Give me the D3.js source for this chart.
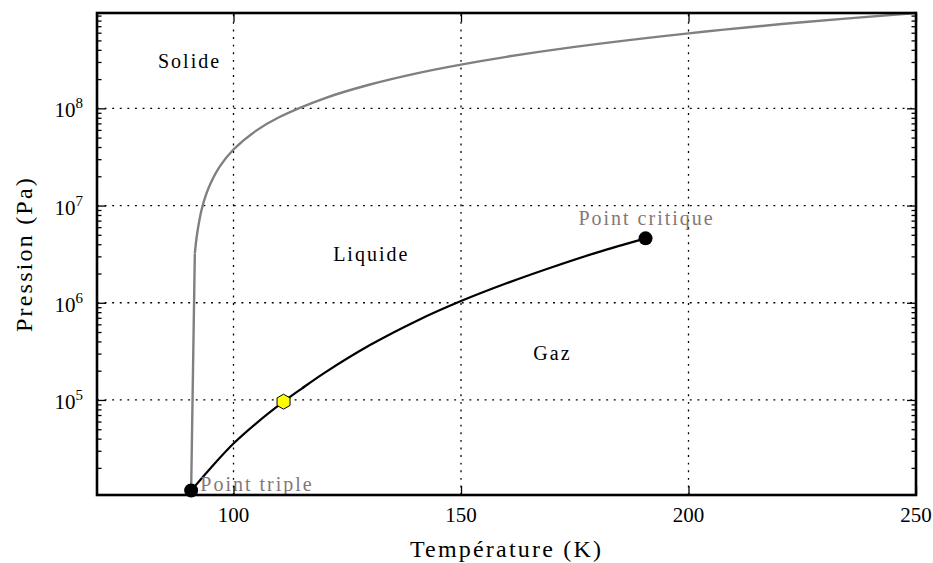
<!DOCTYPE html>
<html>
<head>
<meta charset="utf-8">
<script src="https://cdn.jsdelivr.net/npm/d3@7/dist/d3.min.js"></script>
<style>
  html, body { margin: 0; padding: 0; background: #fff; }
  svg { display: block; }
  svg text { font-family: 'Liberation Serif', 'DejaVu Serif', serif; }
</style>
</head>
<body>
<svg id="chart" width="933" height="563"></svg>
<script>
// ---------------- data ----------------
// Melting (solid/liquid) curve, grey
const meltT = [90.69, 91.5, 92, 93, 94, 95, 97, 100, 105, 110, 120, 130, 140, 150, 160, 175, 200, 225, 250];
const meltP = [1.17e4, 3.2e6, 5.1e6, 9.1e6, 1.31e7, 1.71e7, 2.53e7, 3.77e7, 5.9e7, 8.1e7, 1.27e8, 1.76e8, 2.28e8, 2.82e8, 3.39e8, 4.29e8, 5.91e8, 7.68e8, 9.57e8];
// Vaporisation (liquid/gas) curve, black
const vapT = [90.69, 95, 100, 105, 111, 115, 120, 130, 140, 150, 160, 170, 180, 190.56];
const vapP = [1.17e4, 2.0e4, 3.56e4, 5.75e4, 9.6e4, 1.31e5, 1.9e5, 3.67e5, 6.43e5, 1.04e6, 1.585e6, 2.32e6, 3.3e6, 4.6e6];
// Special points
const triplePoint = [90.69, 1.17e4];
const criticalPoint = [190.56, 4.6e6];
const boilingPoint = [111.0, 9.6e4];
// Axis ticks
const xTicks = [100, 150, 200, 250];
const xTickLabels = ["100", "150", "200", "250"];
const yMajorTicks = [1e5, 1e6, 1e7, 1e8];
const yMajorExp = ["5", "6", "7", "8"];
const xDomain = [70, 250];
const yDomain = [0.9 * 11696, 9.57e8];
// Annotations (text, T, P)
const labelText = ["Solide", "Liquide", "Gaz", "Point critique", "Point triple"];
const labelT = [83.4, 121.9, 165.9, 175.8, 92.7];
const labelP = [2.62e8, 2.66e6, 2.55e5, 6.33e6, 1.17e4];
const labelIsGrey = [false, false, false, true, true];

// ---------------- layout ----------------
const FONT = "'Liberation Serif', 'DejaVu Serif', serif";
const W = 933, H = 563;
const m = { left: 97, right: 17, top: 13, bottom: 68 };
const svg = d3.select("#chart").attr("font-family", FONT);
const x = d3.scaleLinear().domain(xDomain).range([m.left, W - m.right]);
const y = d3.scaleLog().domain(yDomain).range([H - m.bottom, m.top]);
const x0 = m.left, x1 = W - m.right, y0 = H - m.bottom, y1 = m.top;

// minor ticks
const yMinorTicks = [];
for (let e = 4; e <= 8; e++) for (let k = 2; k <= 9; k++) {
  const v = k * Math.pow(10, e);
  if (v > yDomain[0] && v < yDomain[1]) yMinorTicks.push(v);
}

// ---------------- grid ----------------
const grid = svg.append("g").attr("stroke", "#000").attr("stroke-width", 1.3)
  .attr("stroke-dasharray", "1.9,5.7").attr("fill", "none");
grid.selectAll("line.gx").data(xTicks.filter(t => t < xDomain[1])).join("line")
  .attr("x1", d => x(d)).attr("x2", d => x(d)).attr("y1", y0).attr("y2", y1);
grid.selectAll("line.gy").data(yMajorTicks).join("line")
  .attr("y1", d => y(d)).attr("y2", d => y(d)).attr("x1", x0).attr("x2", x1);

// ---------------- curves ----------------
const melt = meltT.map((t, i) => [t, meltP[i]]);
const vap = vapT.map((t, i) => [t, vapP[i]]);
const lineLin = d3.line().x(d => x(d[0])).y(d => y(d[1]));
const lineSmooth = d3.line().x(d => x(d[0])).y(d => y(d[1])).curve(d3.curveCatmullRom.alpha(0.5));

const plot = svg.append("g");
plot.append("path").attr("d", lineLin(melt.slice(0, 2)))
  .attr("fill", "none").attr("stroke", "#808080").attr("stroke-width", 2.4);
plot.append("path").attr("d", lineSmooth(melt.slice(1)))
  .attr("fill", "none").attr("stroke", "#808080").attr("stroke-width", 2.4);
plot.append("path").attr("d", lineSmooth(vap))
  .attr("fill", "none").attr("stroke", "#000").attr("stroke-width", 2.2);

// markers
plot.selectAll("circle.pt").data([triplePoint, criticalPoint]).join("circle")
  .attr("cx", d => x(d[0])).attr("cy", d => y(d[1])).attr("r", 7).attr("fill", "#000");
const hexR = 7.5;
const hexPts = d3.range(6).map(i => {
  const a = -Math.PI / 2 + i * Math.PI / 3;
  return [hexR * Math.cos(a), hexR * Math.sin(a)];
});
plot.append("polygon")
  .attr("points", hexPts.map(p => p.join(",")).join(" "))
  .attr("transform", `translate(${x(boilingPoint[0])},${y(boilingPoint[1])})`)
  .attr("fill", "#ffff00").attr("stroke", "#000").attr("stroke-width", 1);

// annotations
svg.append("g").selectAll("text").data(labelText).join("text")
  .attr("font-family", FONT)
  .attr("x", (d, i) => x(labelT[i])).attr("y", (d, i) => y(labelP[i]))
  .attr("font-size", 20).attr("letter-spacing", 2)
  .attr("fill", (d, i) => labelIsGrey[i] ? "#857777" : "#000")
  .text(d => d);

// ---------------- axes / ticks ----------------
const axG = svg.append("g");
function addTicks(axis, tx, values, len) {
  const g = axG.append("g").attr("transform", tx)
    .call(axis.tickValues(values).tickSize(-len).tickFormat(""));
  g.select(".domain").remove();
  g.selectAll(".tick line").attr("stroke", "#000").attr("stroke-width", 1.3);
  return g;
}
addTicks(d3.axisLeft(y), `translate(${x0},0)`, yMajorTicks, 9);
addTicks(d3.axisLeft(y), `translate(${x0},0)`, yMinorTicks, 4.5);
addTicks(d3.axisRight(y), `translate(${x1},0)`, yMajorTicks, 9);
addTicks(d3.axisRight(y), `translate(${x1},0)`, yMinorTicks, 4.5);
addTicks(d3.axisBottom(x), `translate(0,${y0})`, xTicks, 9);
addTicks(d3.axisTop(x), `translate(0,${y1})`, xTicks, 9);

// x tick labels
axG.append("g").selectAll("text").data(xTicks).join("text")
  .attr("font-family", FONT)
  .attr("x", d => x(d)).attr("y", y0 + 27).attr("text-anchor", "middle")
  .attr("font-size", 21).attr("fill", "#000")
  .text((d, i) => xTickLabels[i]);

// y tick labels 10^n
const yl = axG.append("g").selectAll("text").data(yMajorTicks).join("text")
  .attr("font-family", FONT)
  .attr("x", x0 - 14).attr("y", d => y(d) + 9).attr("text-anchor", "end")
  .attr("font-size", 21).attr("fill", "#000");
yl.append("tspan").text("10");
yl.append("tspan").attr("font-size", 15).attr("dy", -9).text((d, i) => yMajorExp[i]);

// frame
svg.append("rect").attr("x", x0).attr("y", y1).attr("width", x1 - x0).attr("height", y0 - y1)
  .attr("fill", "none").attr("stroke", "#000").attr("stroke-width", 2.6);

// axis titles
svg.append("text").attr("font-family", FONT)
  .attr("x", (x0 + x1) / 2).attr("y", 557).attr("text-anchor", "middle")
  .attr("font-size", 24).attr("letter-spacing", 2.2).attr("fill", "#000").text("Température (K)");
svg.append("text").attr("font-family", FONT)
  .attr("transform", `translate(32,${(y0 + y1) / 2}) rotate(-90)`)
  .attr("text-anchor", "middle")
  .attr("font-size", 24).attr("letter-spacing", 2.2).attr("fill", "#000").text("Pression (Pa)");
</script>
</body>
</html>
